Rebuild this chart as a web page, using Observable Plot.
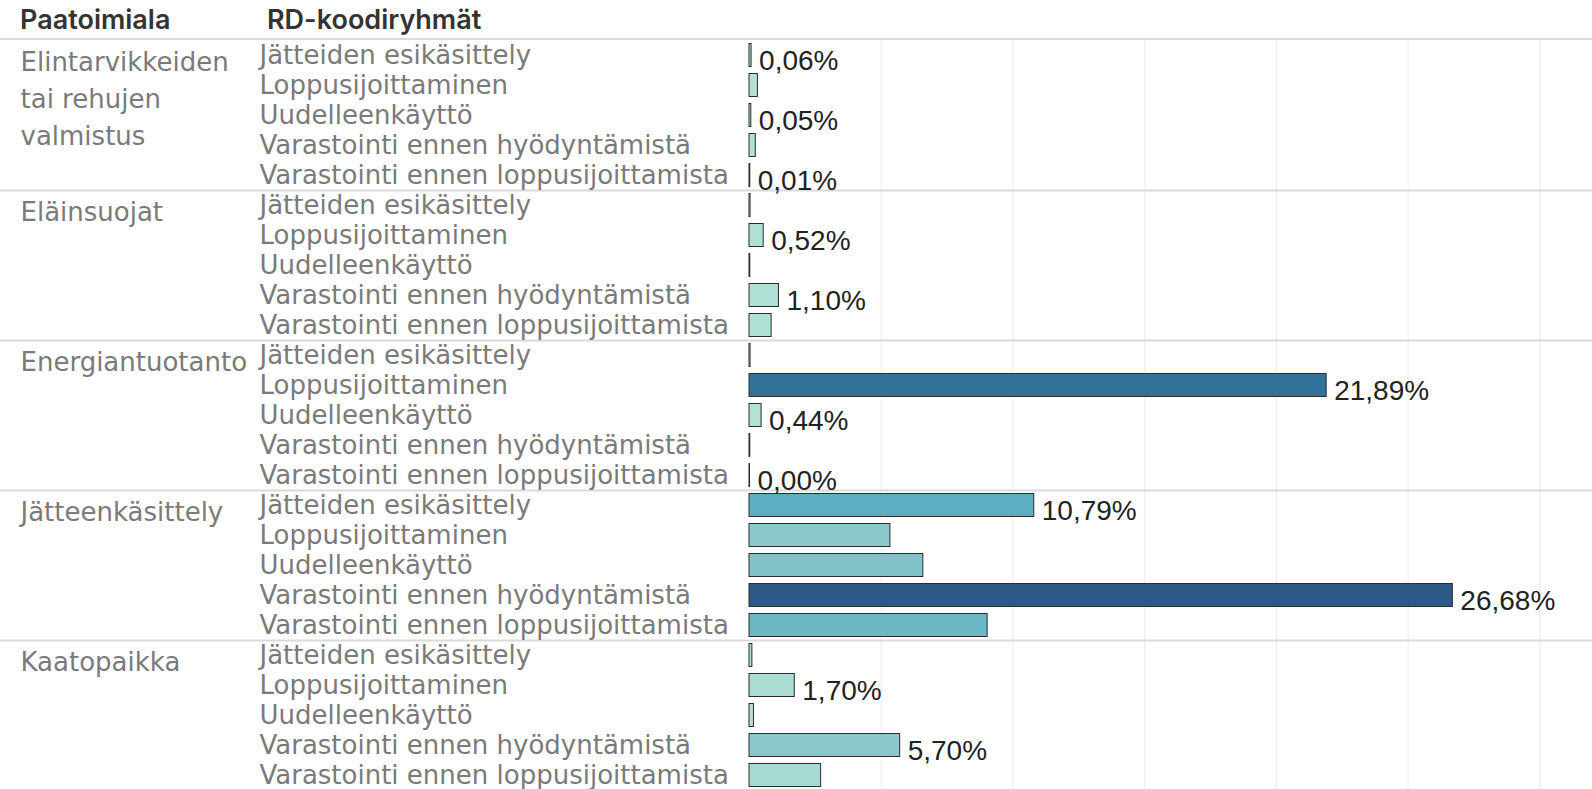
<!DOCTYPE html>
<html><head><meta charset="utf-8">
<script src="https://cdn.jsdelivr.net/npm/d3@7"></script>
<script src="https://cdn.jsdelivr.net/npm/@observablehq/plot@0.6"></script>
<style>
html,body{margin:0;padding:0;background:#fff;}
#wrap{position:relative;width:1592px;}
#header{position:relative;height:38px;border-bottom:2px solid #dadada;}
#header span{position:absolute;top:6px;line-height:1;font-family:"Inter";font-weight:600;font-size:27px;color:#333;}
</style></head><body>
<div id="wrap">
<div id="header"><span style="left:20px">Paatoimiala</span><span style="left:267px">RD-koodiryhmät</span></div>
<div id="chart"></div>
</div>
<script>
const groups = ["Elintarvikkeiden tai rehujen valmistus", "Eläinsuojat", "Energiantuotanto", "Jätteenkäsittely", "Kaatopaikka"];
const categories = ["Jätteiden esikäsittely", "Loppusijoittaminen", "Uudelleenkäyttö", "Varastointi ennen hyödyntämistä", "Varastointi ennen loppusijoittamista"];
const valuesElintarvike = [0.06, 0.30, 0.05, 0.22, 0.01];
const valuesElainsuojat = [0.02, 0.52, 0.01, 1.10, 0.82];
const valuesEnergia = [0.02, 21.89, 0.44, 0.01, 0.00];
const valuesJatteenkasittely = [10.79, 5.33, 6.58, 26.68, 9.02];
const valuesKaatopaikka = [0.09, 1.70, 0.15, 5.70, 2.70];
const labeledIndices = [[0, 2, 4], [1, 3], [1, 2, 4], [0, 3], [1, 3]];
const gridTicks = [5, 10, 15, 20, 25, 30];
const colorStops = [0, 2.7, 5.5, 10.8, 21.9, 26.68];
const colorRange = ["#b5e2d7", "#a6dad3", "#8bc8cc", "#5eaec1", "#32729a", "#2c5985"];

const allValues = [valuesElintarvike, valuesElainsuojat, valuesEnergia, valuesJatteenkasittely, valuesKaatopaikka];
const rows = [];
groups.forEach((g, gi) => categories.forEach((c, ci) => rows.push({
  group: g, category: c, key: g + "|" + c, value: allValues[gi][ci],
  first: ci === 0, labeled: labeledIndices[gi].includes(ci)
})));
const fmt = v => v.toFixed(2).replace(".", ",") + "%";

const chart = Plot.plot({
  width: 1592, height: 750,
  marginLeft: 0, marginRight: 0, marginTop: 0, marginBottom: 0,
  x: {domain: [0, 32], insetLeft: 749, axis: null},
  y: {domain: rows.map(d => d.key), type: "band", padding: 0, axis: null},
  color: {type: "linear", domain: colorStops, range: colorRange},
  style: {background: "#fff", overflow: "visible"},
  marks: [
    Plot.ruleX(gridTicks, {stroke: "#ebebeb", strokeWidth: 1}),
    Plot.ruleY(rows.filter(d => d.first && d.group !== groups[0]), {y: "key", dy: -15, stroke: "#dadada", strokeWidth: 2}),
    Plot.barX(rows, {x: "value", y: "key", fill: "value", stroke: "#2b2b2b", strokeWidth: 1, insetTop: 3.5, insetBottom: 3.5, insetRight: -0.5}),
    Plot.text(rows, {y: "key", text: "category", frameAnchor: "left", dx: 259, textAnchor: "start", fill: "#7a7a7a", fontSize: 26, fontFamily: "DejaVu Sans"}),
    Plot.text(rows.filter(d => d.first), {y: "key", text: "group", frameAnchor: "left", dx: 20, textAnchor: "start", lineAnchor: "top", dy: -11, lineWidth: 8, lineHeight: 1.42, fill: "#7a7a7a", fontSize: 26, fontFamily: "DejaVu Sans"}),
    Plot.text(rows.filter(d => d.labeled), {x: "value", y: "key", text: d => fmt(d.value), dx: 8, dy: 6, textAnchor: "start", fill: "#222", fontSize: 28, fontFamily: "Liberation Sans"})
  ]
});
document.getElementById("chart").appendChild(chart);
</script>
</body></html>
